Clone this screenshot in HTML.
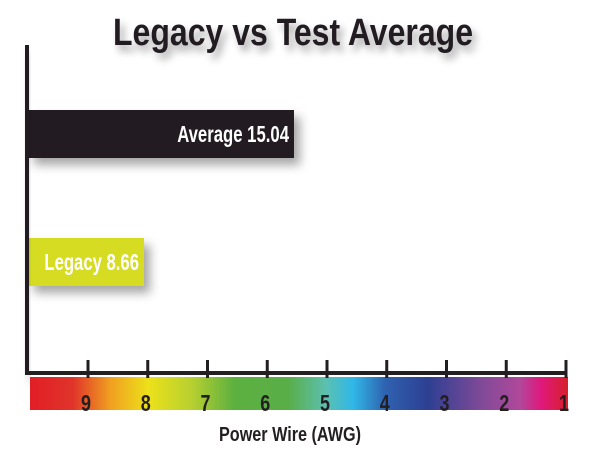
<!DOCTYPE html>
<html><head><meta charset="utf-8"><style>
html,body{margin:0;padding:0;background:#fff;}
svg{display:block;font-family:"Liberation Sans Narrow","Liberation Sans",sans-serif;}
</style></head><body>
<svg id="chart" width="600" height="450" viewBox="0 0 600 450" xmlns="http://www.w3.org/2000/svg">
<defs>
<filter id="sh" x="-20%" y="-30%" width="150%" height="180%"><feDropShadow dx="6" dy="7" stdDeviation="5" flood-color="#000" flood-opacity="0.35"/></filter>
<filter id="tsh" x="-10%" y="-30%" width="130%" height="190%"><feDropShadow dx="4" dy="6" stdDeviation="4" flood-color="#000" flood-opacity="0.35"/></filter>
<linearGradient id="rb" x1="0" x2="1" y1="0" y2="0">
<stop offset="0" stop-color="#e21e26"/><stop offset="0.08" stop-color="#e0342a"/><stop offset="0.15" stop-color="#f0a020"/>
<stop offset="0.22" stop-color="#ece11a"/><stop offset="0.3" stop-color="#b8d030"/><stop offset="0.38" stop-color="#5cb040"/>
<stop offset="0.48" stop-color="#5aae48"/><stop offset="0.55" stop-color="#5cc0b0"/><stop offset="0.6" stop-color="#30b8e8"/>
<stop offset="0.66" stop-color="#2f62b0"/><stop offset="0.74" stop-color="#2e3f92"/><stop offset="0.84" stop-color="#804a98"/>
<stop offset="0.91" stop-color="#b0489a"/><stop offset="0.95" stop-color="#e0187c"/><stop offset="1" stop-color="#d6202a"/>
</linearGradient>
</defs>
<text x="293" y="45" text-anchor="middle" font-size="38" font-weight="bold" fill="#231f20" filter="url(#tsh)" textLength="360" lengthAdjust="spacingAndGlyphs">Legacy vs Test Average</text>
<rect x="30" y="377" width="538" height="33" fill="url(#rb)"/>
<g id="bars"></g>
<rect x="25" y="45" width="4" height="330" fill="#231f20" filter="url(#sh)"/>
<rect x="25" y="371" width="542" height="4" fill="#231f20"/>
<g id="ticks"></g>
<text x="290" y="441" text-anchor="middle" font-size="20" font-weight="bold" fill="#231f20" textLength="142" lengthAdjust="spacingAndGlyphs">Power Wire (AWG)</text>
</svg>
<script>
const categories = ["Average", "Legacy"];
const values = [15.04, 8.66];
const barColors = ["#231f20", "#d5dc24"];
const tickLabels = ["9","8","7","6","5","4","3","2","1"];
const tickValues = [9,8,7,6,5,4,3,2,1];

const NS = "http://www.w3.org/2000/svg";
function xVal(v){ return -59.6 + v * 23.51; }
function xAwg(g){ return 88 + (9 - g) * 59.75; }
const bandTop = [110, 238], bandH = 48;

const bars = document.getElementById('bars');
categories.forEach((c,i)=>{
  const x0 = 28, x1 = xVal(values[i]);
  const r = document.createElementNS(NS,'rect');
  
  
  r.setAttribute('x', x0); r.setAttribute('y', bandTop[i]);
  r.setAttribute('width', Math.max(0, x1 - x0)); r.setAttribute('height', bandH);
  r.setAttribute('fill', barColors[i]); r.setAttribute('filter', 'url(#sh)');
  bars.appendChild(r);
  const t = document.createElementNS(NS,'text');
  
  
  const label = c + ' ' + values[i].toFixed(2);
  t.setAttribute('x', x1 - 5); t.setAttribute('y', bandTop[i] + 32);
  t.setAttribute('text-anchor', 'end'); t.setAttribute('font-size', '23');
  t.setAttribute('font-weight', 'bold'); t.setAttribute('fill', '#fff');
  t.setAttribute('textLength', (label.length * 8.6).toFixed(1));
  t.setAttribute('lengthAdjust', 'spacingAndGlyphs');
  t.textContent = label;
  bars.appendChild(t);
});

const ticks = document.getElementById('ticks');
tickValues.forEach((g,i)=>{
  const x = xAwg(g);
  const l = document.createElementNS(NS,'rect');
  
  
  l.setAttribute('x', x - 1.5); l.setAttribute('y', 360);
  l.setAttribute('width', 3); l.setAttribute('height', 18); l.setAttribute('fill', '#231f20');
  ticks.appendChild(l);
  const t = document.createElementNS(NS,'text');
  
  
  t.setAttribute('x', x - 2); t.setAttribute('y', 411);
  t.setAttribute('text-anchor', 'middle'); t.setAttribute('font-size', '23');
  t.setAttribute('font-weight', 'bold'); t.setAttribute('fill', '#231f20');
  t.setAttribute('textLength', '10');
  t.setAttribute('lengthAdjust', 'spacingAndGlyphs');
  t.textContent = tickLabels[i];
  ticks.appendChild(t);
});
</script>
</body></html>
